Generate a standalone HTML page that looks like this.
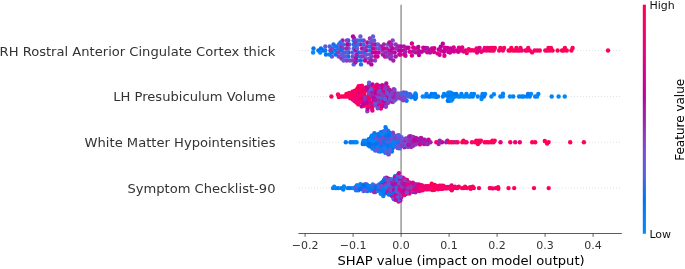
<!DOCTYPE html>
<html><head><meta charset="utf-8"><title>SHAP summary plot</title>
<style>
html,body{margin:0;padding:0;background:#fff;}
body{width:685px;height:269px;overflow:hidden;}
svg text{font-family:"DejaVu Sans","Liberation Sans",sans-serif;}
</style></head><body>
<svg width="685" height="269" viewBox="0 0 685 269" style="display:block;will-change:transform;transform:translateZ(0)">
<rect width="685" height="269" fill="#fff"/>
<line x1="401.1" y1="4.8" x2="401.1" y2="233.5" stroke="#999999" stroke-width="1.5"/>
<line x1="299.5" y1="50.45" x2="621.8" y2="50.45" stroke="#cccccc" stroke-width="0.75" stroke-linecap="round" stroke-dasharray="0.01 3.01"/>
<line x1="299.5" y1="96.45" x2="621.8" y2="96.45" stroke="#cccccc" stroke-width="0.75" stroke-linecap="round" stroke-dasharray="0.01 3.01"/>
<line x1="299.5" y1="142.3" x2="621.8" y2="142.3" stroke="#cccccc" stroke-width="0.75" stroke-linecap="round" stroke-dasharray="0.01 3.01"/>
<line x1="299.5" y1="188.05" x2="621.8" y2="188.05" stroke="#cccccc" stroke-width="0.75" stroke-linecap="round" stroke-dasharray="0.01 3.01"/>
<g>
<circle cx="399.3" cy="54.5" r="2.2" fill="#b10fa5"/><circle cx="369.7" cy="58.4" r="2.2" fill="#6a56d7"/><circle cx="318.4" cy="50.5" r="2.2" fill="#0072ef"/><circle cx="383.9" cy="44.5" r="2.2" fill="#9a27af"/><circle cx="427.2" cy="52.2" r="2.2" fill="#e00086"/><circle cx="366.1" cy="50.5" r="2.2" fill="#b508a3"/><circle cx="362.1" cy="48.4" r="2.2" fill="#cf0093"/><circle cx="513.2" cy="50.5" r="2.2" fill="#fd005e"/><circle cx="437.5" cy="53.4" r="2.2" fill="#e20084"/><circle cx="448.4" cy="51.9" r="2.2" fill="#c80098"/><circle cx="369.9" cy="50.4" r="2.2" fill="#216deb"/><circle cx="338.7" cy="56.5" r="2.2" fill="#8642c5"/><circle cx="444.7" cy="47.8" r="2.2" fill="#e50081"/><circle cx="395.7" cy="44.5" r="2.2" fill="#9233b8"/><circle cx="375.4" cy="44.5" r="2.2" fill="#bc009f"/><circle cx="418.8" cy="51.0" r="2.2" fill="#ae13a6"/><circle cx="463.8" cy="51.5" r="2.2" fill="#df0086"/><circle cx="371.4" cy="64.4" r="2.2" fill="#bb00a0"/><circle cx="377.5" cy="56.5" r="2.2" fill="#bf009d"/><circle cx="466.8" cy="53.1" r="2.2" fill="#ec0079"/><circle cx="375.9" cy="48.5" r="2.2" fill="#7f48ca"/><circle cx="357.1" cy="60.5" r="2.2" fill="#2d6be9"/><circle cx="500.3" cy="47.9" r="2.2" fill="#fc0062"/><circle cx="415.8" cy="52.4" r="2.2" fill="#d30091"/><circle cx="486.6" cy="50.5" r="2.2" fill="#ec0079"/><circle cx="380.9" cy="46.5" r="2.2" fill="#ab17a7"/><circle cx="375.0" cy="60.5" r="2.2" fill="#8741c4"/><circle cx="490.7" cy="47.9" r="2.2" fill="#ff0056"/><circle cx="357.9" cy="40.5" r="2.2" fill="#4665e5"/><circle cx="360.3" cy="44.4" r="2.2" fill="#b802a1"/><circle cx="386.9" cy="52.5" r="2.2" fill="#8047ca"/><circle cx="363.3" cy="52.5" r="2.2" fill="#0072ef"/><circle cx="401.2" cy="50.5" r="2.2" fill="#b40ba3"/><circle cx="349.9" cy="60.5" r="2.2" fill="#7052d4"/><circle cx="434.0" cy="52.1" r="2.2" fill="#e00086"/><circle cx="499.1" cy="50.5" r="2.2" fill="#f90067"/><circle cx="492.9" cy="47.9" r="2.2" fill="#fe005c"/><circle cx="504.1" cy="47.9" r="2.2" fill="#fb0062"/><circle cx="367.0" cy="46.5" r="2.2" fill="#9135ba"/><circle cx="413.2" cy="47.5" r="2.2" fill="#d9008c"/><circle cx="371.7" cy="56.4" r="2.2" fill="#8e39bd"/><circle cx="532.1" cy="52.4" r="2.2" fill="#fb0064"/><circle cx="367.4" cy="42.5" r="2.2" fill="#b509a3"/><circle cx="346.7" cy="60.5" r="2.2" fill="#8d3abe"/><circle cx="342.6" cy="40.5" r="2.2" fill="#a020ab"/><circle cx="537.2" cy="50.5" r="2.2" fill="#fd0060"/><circle cx="407.0" cy="47.7" r="2.2" fill="#b607a3"/><circle cx="378.0" cy="44.5" r="2.2" fill="#5f5bdc"/><circle cx="323.6" cy="50.5" r="2.2" fill="#036fed"/><circle cx="363.5" cy="44.5" r="2.2" fill="#3e67e6"/><circle cx="361.6" cy="52.4" r="2.2" fill="#8245c8"/><circle cx="563.7" cy="50.5" r="2.2" fill="#ff0052"/><circle cx="360.5" cy="56.4" r="2.2" fill="#8443c6"/><circle cx="369.9" cy="38.4" r="2.2" fill="#9134ba"/><circle cx="549.8" cy="50.5" r="2.2" fill="#ff005a"/><circle cx="548.5" cy="47.9" r="2.2" fill="#fb0062"/><circle cx="374.1" cy="40.5" r="2.2" fill="#615adb"/><circle cx="365.9" cy="58.5" r="2.2" fill="#5a5ede"/><circle cx="355.1" cy="46.4" r="2.2" fill="#0075f1"/><circle cx="341.5" cy="58.5" r="2.2" fill="#9135ba"/><circle cx="405.5" cy="55.7" r="2.2" fill="#a61caa"/><circle cx="465.5" cy="50.5" r="2.2" fill="#ec0079"/><circle cx="487.8" cy="47.9" r="2.2" fill="#e60080"/><circle cx="341.2" cy="46.5" r="2.2" fill="#ae13a6"/><circle cx="371.9" cy="40.4" r="2.2" fill="#625adb"/><circle cx="432.0" cy="48.5" r="2.2" fill="#be009e"/><circle cx="481.2" cy="51.8" r="2.2" fill="#f80068"/><circle cx="343.8" cy="52.5" r="2.2" fill="#7f47ca"/><circle cx="394.7" cy="52.5" r="2.2" fill="#c0009d"/><circle cx="392.7" cy="40.5" r="2.2" fill="#8345c8"/><circle cx="516.4" cy="47.9" r="2.2" fill="#ff0051"/><circle cx="332.2" cy="48.5" r="2.2" fill="#8443c6"/><circle cx="399.0" cy="50.5" r="2.2" fill="#b901a1"/><circle cx="325.3" cy="46.5" r="2.2" fill="#7251d3"/><circle cx="470.0" cy="50.5" r="2.2" fill="#f20072"/><circle cx="354.3" cy="38.4" r="2.2" fill="#8f38bc"/><circle cx="382.4" cy="50.5" r="2.2" fill="#8740c4"/><circle cx="329.7" cy="46.5" r="2.2" fill="#2f6ae9"/><circle cx="363.7" cy="40.5" r="2.2" fill="#8d3abe"/><circle cx="353.7" cy="48.4" r="2.2" fill="#4366e5"/><circle cx="370.0" cy="46.4" r="2.2" fill="#226deb"/><circle cx="326.0" cy="54.5" r="2.2" fill="#0079f3"/><circle cx="353.7" cy="40.4" r="2.2" fill="#1e6deb"/><circle cx="344.0" cy="56.5" r="2.2" fill="#7e49cb"/><circle cx="445.0" cy="50.5" r="2.2" fill="#d40090"/><circle cx="313.1" cy="52.5" r="2.2" fill="#0089fa"/><circle cx="411.9" cy="55.5" r="2.2" fill="#d8008d"/><circle cx="409.9" cy="51.8" r="2.2" fill="#d40090"/><circle cx="379.2" cy="48.5" r="2.2" fill="#6658d9"/><circle cx="348.5" cy="52.5" r="2.2" fill="#aa18a8"/><circle cx="349.2" cy="44.5" r="2.2" fill="#3e67e6"/><circle cx="375.6" cy="56.5" r="2.2" fill="#d30090"/><circle cx="348.6" cy="48.5" r="2.2" fill="#6359db"/><circle cx="438.7" cy="49.4" r="2.2" fill="#bd009f"/><circle cx="348.2" cy="40.5" r="2.2" fill="#0072ef"/><circle cx="353.6" cy="44.4" r="2.2" fill="#2d6be9"/><circle cx="348.3" cy="56.5" r="2.2" fill="#0076f1"/><circle cx="391.9" cy="52.5" r="2.2" fill="#a41daa"/><circle cx="335.7" cy="54.5" r="2.2" fill="#0073ef"/><circle cx="373.0" cy="36.4" r="2.2" fill="#6359db"/><circle cx="345.3" cy="56.5" r="2.2" fill="#5d5cdd"/><circle cx="403.9" cy="46.5" r="2.2" fill="#a61caa"/><circle cx="355.5" cy="50.4" r="2.2" fill="#b900a1"/><circle cx="370.3" cy="42.4" r="2.2" fill="#7b4acd"/><circle cx="551.0" cy="47.9" r="2.2" fill="#ff005b"/><circle cx="472.0" cy="50.2" r="2.2" fill="#fb0062"/><circle cx="338.3" cy="48.5" r="2.2" fill="#3469e8"/><circle cx="424.4" cy="50.5" r="2.2" fill="#a71aa9"/><circle cx="433.0" cy="50.5" r="2.2" fill="#d9008c"/><circle cx="477.0" cy="52.5" r="2.2" fill="#f5006d"/><circle cx="357.2" cy="48.5" r="2.2" fill="#6658d9"/><circle cx="343.4" cy="44.5" r="2.2" fill="#4765e4"/><circle cx="439.6" cy="54.8" r="2.2" fill="#cc0096"/><circle cx="369.9" cy="54.4" r="2.2" fill="#6e54d5"/><circle cx="331.9" cy="52.5" r="2.2" fill="#0077f2"/><circle cx="382.8" cy="54.5" r="2.2" fill="#9b24ad"/><circle cx="539.8" cy="50.5" r="2.2" fill="#f80068"/><circle cx="434.3" cy="48.1" r="2.2" fill="#c80098"/><circle cx="365.0" cy="60.5" r="2.2" fill="#d10092"/><circle cx="375.6" cy="52.5" r="2.2" fill="#be009e"/><circle cx="493.7" cy="50.5" r="2.2" fill="#f80069"/><circle cx="468.7" cy="49.1" r="2.2" fill="#f90067"/><circle cx="353.0" cy="36.4" r="2.2" fill="#bf009e"/><circle cx="404.3" cy="50.5" r="2.2" fill="#bc009f"/><circle cx="343.6" cy="60.5" r="2.2" fill="#6857d8"/><circle cx="450.7" cy="48.5" r="2.2" fill="#ca0097"/><circle cx="373.0" cy="44.4" r="2.2" fill="#a120ab"/><circle cx="346.2" cy="48.5" r="2.2" fill="#9e22ac"/><circle cx="462.2" cy="47.5" r="2.2" fill="#ea007b"/><circle cx="521.8" cy="50.5" r="2.2" fill="#e9007c"/><circle cx="557.6" cy="50.5" r="2.2" fill="#ff0057"/><circle cx="353.7" cy="64.4" r="2.2" fill="#4d63e3"/><circle cx="371.4" cy="60.4" r="2.2" fill="#a41daa"/><circle cx="415.6" cy="48.4" r="2.2" fill="#db008a"/><circle cx="562.0" cy="50.5" r="2.2" fill="#ff0056"/><circle cx="529.7" cy="50.5" r="2.2" fill="#f6006b"/><circle cx="461.0" cy="50.5" r="2.2" fill="#dd0088"/><circle cx="444.4" cy="55.8" r="2.2" fill="#e50081"/><circle cx="411.9" cy="43.5" r="2.2" fill="#d40090"/><circle cx="547.3" cy="50.5" r="2.2" fill="#fc0061"/><circle cx="454.0" cy="51.5" r="2.2" fill="#ea007c"/><circle cx="502.9" cy="50.5" r="2.2" fill="#f6006b"/><circle cx="363.0" cy="56.5" r="2.2" fill="#8d3abe"/><circle cx="352.7" cy="56.4" r="2.2" fill="#7a4bce"/><circle cx="400.8" cy="46.5" r="2.2" fill="#b705a2"/><circle cx="342.4" cy="48.5" r="2.2" fill="#8b3cc0"/><circle cx="405.5" cy="51.7" r="2.2" fill="#9a27b0"/><circle cx="386.8" cy="48.5" r="2.2" fill="#a21eab"/><circle cx="388.1" cy="44.5" r="2.2" fill="#7f48cb"/><circle cx="515.2" cy="50.5" r="2.2" fill="#f90067"/><circle cx="393.3" cy="60.5" r="2.2" fill="#a31eaa"/><circle cx="361.0" cy="64.4" r="2.2" fill="#206deb"/><circle cx="476.6" cy="48.5" r="2.2" fill="#ff0056"/><circle cx="355.2" cy="42.4" r="2.2" fill="#972db3"/><circle cx="341.1" cy="50.5" r="2.2" fill="#0076f2"/><circle cx="361.0" cy="40.4" r="2.2" fill="#2c6be9"/><circle cx="389.9" cy="50.5" r="2.2" fill="#ca0097"/><circle cx="331.9" cy="56.5" r="2.2" fill="#635adb"/><circle cx="391.1" cy="46.5" r="2.2" fill="#952fb5"/><circle cx="320.9" cy="48.5" r="2.2" fill="#006fed"/><circle cx="494.9" cy="47.9" r="2.2" fill="#f7006a"/><circle cx="528.2" cy="47.9" r="2.2" fill="#fe005e"/><circle cx="419.0" cy="55.0" r="2.2" fill="#b705a2"/><circle cx="364.7" cy="48.5" r="2.2" fill="#9036bb"/><circle cx="357.1" cy="56.5" r="2.2" fill="#0078f3"/><circle cx="366.3" cy="54.5" r="2.2" fill="#7251d3"/><circle cx="572.6" cy="47.9" r="2.2" fill="#fc0060"/><circle cx="413.1" cy="51.5" r="2.2" fill="#ab17a7"/><circle cx="510.1" cy="50.5" r="2.2" fill="#ff0052"/><circle cx="352.4" cy="52.4" r="2.2" fill="#4166e6"/><circle cx="508.6" cy="50.5" r="2.2" fill="#f90067"/><circle cx="421.7" cy="51.8" r="2.2" fill="#c1009d"/><circle cx="418.3" cy="47.0" r="2.2" fill="#b804a2"/><circle cx="571.4" cy="50.5" r="2.2" fill="#ff0051"/><circle cx="360.8" cy="60.4" r="2.2" fill="#0e6eec"/><circle cx="517.6" cy="50.5" r="2.2" fill="#fa0065"/><circle cx="389.4" cy="42.5" r="2.2" fill="#c90098"/><circle cx="450.0" cy="52.5" r="2.2" fill="#cc0096"/><circle cx="373.0" cy="52.4" r="2.2" fill="#c2009c"/><circle cx="390.4" cy="58.5" r="2.2" fill="#9d22ad"/><circle cx="385.0" cy="56.5" r="2.2" fill="#c70099"/><circle cx="429.2" cy="50.5" r="2.2" fill="#d8008d"/><circle cx="355.8" cy="58.4" r="2.2" fill="#b607a2"/><circle cx="352.6" cy="60.4" r="2.2" fill="#893ec2"/><circle cx="355.4" cy="62.4" r="2.2" fill="#a919a8"/><circle cx="474.3" cy="50.5" r="2.2" fill="#f4006f"/><circle cx="338.9" cy="44.5" r="2.2" fill="#5f5bdc"/><circle cx="358.4" cy="52.5" r="2.2" fill="#0073ef"/><circle cx="386.9" cy="56.5" r="2.2" fill="#9135ba"/><circle cx="453.7" cy="47.5" r="2.2" fill="#d7008d"/><circle cx="456.6" cy="50.5" r="2.2" fill="#da008b"/><circle cx="335.9" cy="46.5" r="2.2" fill="#007df5"/><circle cx="534.7" cy="50.5" r="2.2" fill="#f80068"/><circle cx="430.1" cy="52.5" r="2.2" fill="#ae13a6"/><circle cx="340.4" cy="42.5" r="2.2" fill="#3769e8"/><circle cx="398.5" cy="46.5" r="2.2" fill="#aa18a8"/><circle cx="391.5" cy="44.5" r="2.2" fill="#9a27af"/><circle cx="458.9" cy="47.8" r="2.2" fill="#df0087"/><circle cx="335.3" cy="50.5" r="2.2" fill="#007df6"/><circle cx="385.7" cy="52.5" r="2.2" fill="#9234b9"/><circle cx="313.5" cy="48.5" r="2.2" fill="#0077f2"/><circle cx="360.4" cy="36.4" r="2.2" fill="#7052d4"/><circle cx="390.1" cy="54.5" r="2.2" fill="#9a27af"/><circle cx="357.9" cy="44.5" r="2.2" fill="#3569e8"/><circle cx="511.3" cy="47.9" r="2.2" fill="#ff0051"/><circle cx="395.7" cy="56.5" r="2.2" fill="#a819a8"/><circle cx="525.5" cy="50.5" r="2.2" fill="#fd005e"/><circle cx="520.5" cy="47.9" r="2.2" fill="#f5006d"/><circle cx="552.6" cy="50.5" r="2.2" fill="#ff0056"/><circle cx="333.5" cy="44.5" r="2.2" fill="#1d6deb"/><circle cx="400.7" cy="54.5" r="2.2" fill="#d10092"/><circle cx="383.6" cy="48.5" r="2.2" fill="#ce0094"/><circle cx="373.1" cy="48.4" r="2.2" fill="#ca0097"/><circle cx="341.8" cy="54.5" r="2.2" fill="#5e5cdd"/><circle cx="368.6" cy="62.4" r="2.2" fill="#a919a8"/><circle cx="425.6" cy="47.9" r="2.2" fill="#bd009f"/><circle cx="347.0" cy="40.5" r="2.2" fill="#8b3dc1"/><circle cx="330.4" cy="50.5" r="2.2" fill="#9036bb"/><circle cx="325.3" cy="50.5" r="2.2" fill="#007ef6"/><circle cx="338.1" cy="52.5" r="2.2" fill="#9037bc"/><circle cx="356.4" cy="54.4" r="2.2" fill="#a71aa9"/><circle cx="608.0" cy="50.5" r="2.2" fill="#ff0053"/><circle cx="442.8" cy="43.8" r="2.2" fill="#be009e"/><circle cx="440.7" cy="46.8" r="2.2" fill="#b900a1"/><circle cx="446.2" cy="47.9" r="2.2" fill="#d00093"/><circle cx="478.4" cy="50.5" r="2.2" fill="#d8008d"/><circle cx="408.6" cy="47.8" r="2.2" fill="#cc0095"/><circle cx="440.9" cy="50.8" r="2.2" fill="#da008b"/><circle cx="566.8" cy="50.5" r="2.2" fill="#fe005e"/><circle cx="320.2" cy="52.5" r="2.2" fill="#0086f9"/><circle cx="479.6" cy="47.9" r="2.2" fill="#d40090"/><circle cx="484.7" cy="47.9" r="2.2" fill="#f4006f"/><circle cx="564.9" cy="47.9" r="2.2" fill="#fe005d"/><circle cx="404.5" cy="54.5" r="2.2" fill="#d30090"/><circle cx="545.3" cy="50.5" r="2.2" fill="#f80068"/><circle cx="458.2" cy="51.8" r="2.2" fill="#cf0094"/><circle cx="396.2" cy="48.5" r="2.2" fill="#962eb5"/><circle cx="527.0" cy="50.5" r="2.2" fill="#f90066"/><circle cx="347.3" cy="44.5" r="2.2" fill="#bb00a0"/><circle cx="392.5" cy="48.5" r="2.2" fill="#b902a1"/><circle cx="483.5" cy="50.5" r="2.2" fill="#f20071"/><circle cx="444.0" cy="51.8" r="2.2" fill="#bf009e"/><circle cx="452.5" cy="50.5" r="2.2" fill="#c90097"/><circle cx="378.7" cy="52.5" r="2.2" fill="#cc0096"/><circle cx="423.3" cy="47.8" r="2.2" fill="#c80098"/><circle cx="391.5" cy="56.5" r="2.2" fill="#8e39bd"/><circle cx="519.3" cy="50.5" r="2.2" fill="#fb0063"/><circle cx="447.6" cy="47.9" r="2.2" fill="#ce0094"/><circle cx="491.7" cy="50.5" r="2.2" fill="#ff0055"/><circle cx="489.5" cy="50.5" r="2.2" fill="#f30070"/><circle cx="329.6" cy="54.5" r="2.2" fill="#0081f7"/><circle cx="346.7" cy="52.5" r="2.2" fill="#4565e5"/><circle cx="427.5" cy="48.2" r="2.2" fill="#ad14a6"/>
</g>
<g>
<circle cx="458.2" cy="96.5" r="2.2" fill="#0087fa"/><circle cx="372.6" cy="89.7" r="2.2" fill="#ff005a"/><circle cx="379.5" cy="85.9" r="2.2" fill="#a919a8"/><circle cx="387.3" cy="101.0" r="2.2" fill="#565fe0"/><circle cx="411.2" cy="97.3" r="2.2" fill="#007ef6"/><circle cx="378.5" cy="103.0" r="2.2" fill="#8642c5"/><circle cx="396.9" cy="96.0" r="2.2" fill="#635adb"/><circle cx="361.8" cy="93.4" r="2.2" fill="#c6009a"/><circle cx="358.3" cy="94.0" r="2.2" fill="#f20072"/><circle cx="380.9" cy="88.5" r="2.2" fill="#4465e5"/><circle cx="352.9" cy="95.8" r="2.2" fill="#fc0061"/><circle cx="377.5" cy="100.4" r="2.2" fill="#8641c4"/><circle cx="376.3" cy="89.6" r="2.2" fill="#d6008e"/><circle cx="352.8" cy="99.5" r="2.2" fill="#fe005e"/><circle cx="360.3" cy="94.3" r="2.2" fill="#db008a"/><circle cx="482.0" cy="96.5" r="2.2" fill="#0080f7"/><circle cx="367.3" cy="111.3" r="2.2" fill="#7f48cb"/><circle cx="442.9" cy="96.5" r="2.2" fill="#007ff7"/><circle cx="415.2" cy="98.7" r="2.2" fill="#096fec"/><circle cx="513.3" cy="96.5" r="2.2" fill="#0081f7"/><circle cx="384.1" cy="101.6" r="2.2" fill="#5161e1"/><circle cx="399.5" cy="96.0" r="2.2" fill="#8d3abe"/><circle cx="360.8" cy="96.9" r="2.2" fill="#b508a3"/><circle cx="361.4" cy="96.0" r="2.2" fill="#ff0051"/><circle cx="388.4" cy="94.9" r="2.2" fill="#6459da"/><circle cx="376.9" cy="95.2" r="2.2" fill="#8d3abe"/><circle cx="392.8" cy="102.1" r="2.2" fill="#754fd1"/><circle cx="465.2" cy="96.5" r="2.2" fill="#008afb"/><circle cx="361.9" cy="85.6" r="2.2" fill="#fd005f"/><circle cx="343.4" cy="96.5" r="2.2" fill="#fc0062"/><circle cx="406.6" cy="100.7" r="2.2" fill="#0078f3"/><circle cx="365.4" cy="100.5" r="2.2" fill="#9135ba"/><circle cx="449.3" cy="100.7" r="2.2" fill="#007af4"/><circle cx="338.8" cy="97.1" r="2.2" fill="#fe005d"/><circle cx="362.2" cy="101.2" r="2.2" fill="#fe005d"/><circle cx="386.0" cy="96.4" r="2.2" fill="#605bdc"/><circle cx="485.1" cy="93.9" r="2.2" fill="#0086f9"/><circle cx="387.6" cy="87.1" r="2.2" fill="#d7008e"/><circle cx="355.2" cy="97.4" r="2.2" fill="#ff005a"/><circle cx="379.4" cy="98.9" r="2.2" fill="#a51caa"/><circle cx="382.6" cy="103.4" r="2.2" fill="#4166e6"/><circle cx="358.3" cy="104.4" r="2.2" fill="#f6006b"/><circle cx="415.9" cy="95.0" r="2.2" fill="#007af4"/><circle cx="387.9" cy="95.8" r="2.2" fill="#9a25ae"/><circle cx="393.7" cy="95.2" r="2.2" fill="#a71aa9"/><circle cx="451.6" cy="95.2" r="2.2" fill="#0084f9"/><circle cx="470.3" cy="96.5" r="2.2" fill="#0084f9"/><circle cx="452.4" cy="97.8" r="2.2" fill="#0089fa"/><circle cx="379.1" cy="106.8" r="2.2" fill="#7f48ca"/><circle cx="367.6" cy="108.7" r="2.2" fill="#c6009a"/><circle cx="380.9" cy="108.6" r="2.2" fill="#ef0076"/><circle cx="382.2" cy="100.8" r="2.2" fill="#f4006e"/><circle cx="564.8" cy="96.5" r="2.2" fill="#008afb"/><circle cx="455.1" cy="96.5" r="2.2" fill="#0080f7"/><circle cx="364.2" cy="105.7" r="2.2" fill="#ff0056"/><circle cx="385.7" cy="93.8" r="2.2" fill="#9431b7"/><circle cx="370.2" cy="86.5" r="2.2" fill="#6d54d6"/><circle cx="425.3" cy="96.5" r="2.2" fill="#0086f9"/><circle cx="416.0" cy="97.6" r="2.2" fill="#007ff7"/><circle cx="383.9" cy="93.2" r="2.2" fill="#c2009c"/><circle cx="389.3" cy="100.1" r="2.2" fill="#7152d4"/><circle cx="370.2" cy="94.3" r="2.2" fill="#ff005a"/><circle cx="361.7" cy="106.4" r="2.2" fill="#c90098"/><circle cx="472.8" cy="96.5" r="2.2" fill="#0080f7"/><circle cx="387.4" cy="97.5" r="2.2" fill="#c80099"/><circle cx="352.6" cy="96.9" r="2.2" fill="#f80069"/><circle cx="529.8" cy="96.5" r="2.2" fill="#0080f7"/><circle cx="523.5" cy="96.5" r="2.2" fill="#0081f8"/><circle cx="358.9" cy="91.4" r="2.2" fill="#cb0096"/><circle cx="376.1" cy="94.8" r="2.2" fill="#c3009b"/><circle cx="414.0" cy="96.1" r="2.2" fill="#0078f3"/><circle cx="474.0" cy="93.9" r="2.2" fill="#0080f7"/><circle cx="403.2" cy="100.2" r="2.2" fill="#8c3bbf"/><circle cx="367.0" cy="98.3" r="2.2" fill="#9b24ae"/><circle cx="382.7" cy="95.8" r="2.2" fill="#6658d9"/><circle cx="382.6" cy="98.4" r="2.2" fill="#ae14a6"/><circle cx="385.9" cy="88.0" r="2.2" fill="#9c23ad"/><circle cx="355.1" cy="94.8" r="2.2" fill="#fc0062"/><circle cx="372.5" cy="84.5" r="2.2" fill="#c0009d"/><circle cx="378.7" cy="90.0" r="2.2" fill="#e40082"/><circle cx="367.3" cy="90.5" r="2.2" fill="#ff0051"/><circle cx="377.0" cy="105.6" r="2.2" fill="#ab17a7"/><circle cx="373.3" cy="102.7" r="2.2" fill="#fd0060"/><circle cx="510.0" cy="96.5" r="2.2" fill="#008afb"/><circle cx="535.2" cy="96.5" r="2.2" fill="#007ef6"/><circle cx="383.6" cy="103.6" r="2.2" fill="#9332b8"/><circle cx="537.1" cy="96.5" r="2.2" fill="#008afb"/><circle cx="331.4" cy="96.5" r="2.2" fill="#fe005d"/><circle cx="376.8" cy="97.8" r="2.2" fill="#8b3cc0"/><circle cx="436.2" cy="97.1" r="2.2" fill="#0083f8"/><circle cx="400.8" cy="98.6" r="2.2" fill="#8a3dc1"/><circle cx="384.2" cy="91.2" r="2.2" fill="#e9007d"/><circle cx="389.4" cy="92.3" r="2.2" fill="#c3009b"/><circle cx="381.1" cy="93.0" r="2.2" fill="#4466e5"/><circle cx="500.4" cy="96.5" r="2.2" fill="#0080f7"/><circle cx="538.3" cy="93.9" r="2.2" fill="#0083f9"/><circle cx="450.8" cy="92.6" r="2.2" fill="#007df6"/><circle cx="404.8" cy="98.0" r="2.2" fill="#754fd1"/><circle cx="372.4" cy="110.5" r="2.2" fill="#eb007b"/><circle cx="379.5" cy="96.3" r="2.2" fill="#7e48cb"/><circle cx="382.4" cy="106.0" r="2.2" fill="#d20091"/><circle cx="519.1" cy="96.5" r="2.2" fill="#0082f8"/><circle cx="382.2" cy="85.2" r="2.2" fill="#c3009c"/><circle cx="383.4" cy="88.0" r="2.2" fill="#9530b6"/><circle cx="438.0" cy="96.5" r="2.2" fill="#0079f3"/><circle cx="379.0" cy="93.8" r="2.2" fill="#f00074"/><circle cx="531.0" cy="93.9" r="2.2" fill="#0087fa"/><circle cx="447.8" cy="100.7" r="2.2" fill="#0077f2"/><circle cx="434.8" cy="93.9" r="2.2" fill="#007af4"/><circle cx="375.7" cy="97.4" r="2.2" fill="#784dcf"/><circle cx="371.1" cy="107.3" r="2.2" fill="#9829b1"/><circle cx="381.3" cy="98.2" r="2.2" fill="#4665e5"/><circle cx="435.3" cy="94.5" r="2.2" fill="#007df6"/><circle cx="430.4" cy="96.5" r="2.2" fill="#007cf5"/><circle cx="368.5" cy="95.7" r="2.2" fill="#ff0051"/><circle cx="370.3" cy="102.1" r="2.2" fill="#fe005e"/><circle cx="387.3" cy="93.2" r="2.2" fill="#7b4bcd"/><circle cx="390.8" cy="101.3" r="2.2" fill="#af13a6"/><circle cx="380.3" cy="104.1" r="2.2" fill="#ec0079"/><circle cx="362.0" cy="98.6" r="2.2" fill="#d20091"/><circle cx="422.8" cy="96.5" r="2.2" fill="#0089fa"/><circle cx="374.9" cy="87.0" r="2.2" fill="#aa18a8"/><circle cx="471.5" cy="93.9" r="2.2" fill="#0086f9"/><circle cx="448.6" cy="98.0" r="2.2" fill="#0085f9"/><circle cx="477.8" cy="96.5" r="2.2" fill="#0086fa"/><circle cx="526.8" cy="96.5" r="2.2" fill="#0084f9"/><circle cx="468.4" cy="96.5" r="2.2" fill="#0088fa"/><circle cx="345.2" cy="96.5" r="2.2" fill="#f90067"/><circle cx="431.6" cy="93.9" r="2.2" fill="#0078f2"/><circle cx="377.7" cy="108.2" r="2.2" fill="#784dcf"/><circle cx="373.9" cy="100.1" r="2.2" fill="#bf009d"/><circle cx="373.5" cy="87.1" r="2.2" fill="#ff005b"/><circle cx="444.1" cy="93.9" r="2.2" fill="#007ff6"/><circle cx="385.8" cy="104.2" r="2.2" fill="#ac16a7"/><circle cx="453.0" cy="96.5" r="2.2" fill="#0087fa"/><circle cx="357.5" cy="101.8" r="2.2" fill="#e10085"/><circle cx="356.0" cy="100.0" r="2.2" fill="#f30070"/><circle cx="503.0" cy="93.8" r="2.2" fill="#0084f9"/><circle cx="369.8" cy="91.7" r="2.2" fill="#7450d2"/><circle cx="355.4" cy="92.2" r="2.2" fill="#fe005e"/><circle cx="450.0" cy="98.0" r="2.2" fill="#0089fa"/><circle cx="392.6" cy="99.5" r="2.2" fill="#7c4acc"/><circle cx="393.4" cy="94.3" r="2.2" fill="#a819a8"/><circle cx="394.6" cy="92.6" r="2.2" fill="#a120ab"/><circle cx="365.0" cy="90.1" r="2.2" fill="#ae14a6"/><circle cx="369.0" cy="93.1" r="2.2" fill="#8443c6"/><circle cx="393.8" cy="91.7" r="2.2" fill="#af13a6"/><circle cx="374.8" cy="105.2" r="2.2" fill="#6559da"/><circle cx="415.4" cy="93.5" r="2.2" fill="#0083f8"/><circle cx="385.6" cy="86.0" r="2.2" fill="#8e39bd"/><circle cx="502.8" cy="96.4" r="2.2" fill="#0086f9"/><circle cx="375.4" cy="92.2" r="2.2" fill="#b901a1"/><circle cx="386.7" cy="103.6" r="2.2" fill="#9928b0"/><circle cx="354.8" cy="90.6" r="2.2" fill="#ff0052"/><circle cx="350.3" cy="98.2" r="2.2" fill="#fc0061"/><circle cx="354.8" cy="93.2" r="2.2" fill="#f6006b"/><circle cx="528.0" cy="93.9" r="2.2" fill="#007df6"/><circle cx="359.6" cy="86.5" r="2.2" fill="#d9008c"/><circle cx="349.2" cy="95.6" r="2.2" fill="#ff005a"/><circle cx="521.6" cy="96.5" r="2.2" fill="#0085f9"/><circle cx="347.4" cy="96.5" r="2.2" fill="#fd005f"/><circle cx="359.9" cy="89.1" r="2.2" fill="#ff0051"/><circle cx="374.0" cy="105.3" r="2.2" fill="#8245c8"/><circle cx="359.4" cy="102.1" r="2.2" fill="#f90067"/><circle cx="394.7" cy="100.4" r="2.2" fill="#6c55d6"/><circle cx="358.6" cy="86.2" r="2.2" fill="#fb0064"/><circle cx="357.4" cy="88.8" r="2.2" fill="#d8008c"/><circle cx="403.5" cy="92.4" r="2.2" fill="#8641c4"/><circle cx="348.6" cy="93.9" r="2.2" fill="#ff0056"/><circle cx="361.0" cy="91.7" r="2.2" fill="#f90067"/><circle cx="433.6" cy="96.5" r="2.2" fill="#0086fa"/><circle cx="385.9" cy="106.8" r="2.2" fill="#8a3ec1"/><circle cx="353.0" cy="98.4" r="2.2" fill="#ea007b"/><circle cx="386.1" cy="98.4" r="2.2" fill="#e00085"/><circle cx="391.8" cy="90.9" r="2.2" fill="#9332b8"/><circle cx="551.7" cy="96.5" r="2.2" fill="#0086f9"/><circle cx="364.4" cy="95.3" r="2.2" fill="#a61caa"/><circle cx="371.2" cy="104.7" r="2.2" fill="#a61ba9"/><circle cx="387.1" cy="90.6" r="2.2" fill="#5f5bdc"/><circle cx="461.4" cy="93.9" r="2.2" fill="#007ef6"/><circle cx="449.6" cy="92.8" r="2.2" fill="#0086fa"/><circle cx="558.6" cy="96.5" r="2.2" fill="#0088fa"/><circle cx="491.4" cy="96.5" r="2.2" fill="#0088fa"/><circle cx="400.5" cy="93.5" r="2.2" fill="#5061e2"/><circle cx="386.3" cy="83.4" r="2.2" fill="#b607a2"/><circle cx="406.2" cy="95.5" r="2.2" fill="#6459da"/><circle cx="381.3" cy="90.4" r="2.2" fill="#9036bb"/><circle cx="493.9" cy="94.3" r="2.2" fill="#0088fa"/><circle cx="394.6" cy="90.0" r="2.2" fill="#7251d3"/><circle cx="453.5" cy="93.9" r="2.2" fill="#007ef6"/><circle cx="390.3" cy="96.1" r="2.2" fill="#605bdc"/><circle cx="375.3" cy="102.6" r="2.2" fill="#6c55d6"/><circle cx="367.6" cy="87.9" r="2.2" fill="#b608a3"/><circle cx="389.4" cy="89.7" r="2.2" fill="#a61caa"/><circle cx="371.9" cy="94.9" r="2.2" fill="#9331b7"/><circle cx="377.0" cy="84.8" r="2.2" fill="#e7007f"/><circle cx="362.8" cy="103.8" r="2.2" fill="#c2009c"/><circle cx="372.5" cy="92.3" r="2.2" fill="#ad15a7"/><circle cx="452.5" cy="99.0" r="2.2" fill="#0082f8"/><circle cx="359.9" cy="99.5" r="2.2" fill="#ed0078"/><circle cx="366.0" cy="87.5" r="2.2" fill="#c70099"/><circle cx="482.5" cy="93.9" r="2.2" fill="#0082f8"/><circle cx="368.9" cy="85.3" r="2.2" fill="#9f21ac"/><circle cx="463.3" cy="96.5" r="2.2" fill="#0089fa"/><circle cx="362.8" cy="88.2" r="2.2" fill="#f90067"/><circle cx="341.2" cy="96.5" r="2.2" fill="#ff0053"/><circle cx="383.3" cy="90.6" r="2.2" fill="#d9008c"/><circle cx="357.0" cy="89.6" r="2.2" fill="#ff0051"/><circle cx="364.8" cy="97.9" r="2.2" fill="#9431b7"/><circle cx="460.2" cy="96.5" r="2.2" fill="#0086f9"/><circle cx="371.4" cy="96.9" r="2.2" fill="#962eb5"/><circle cx="451.5" cy="100.5" r="2.2" fill="#0089fa"/><circle cx="383.6" cy="101.0" r="2.2" fill="#c1009d"/><circle cx="428.5" cy="96.5" r="2.2" fill="#0077f2"/><circle cx="397.7" cy="93.5" r="2.2" fill="#8047c9"/><circle cx="481.5" cy="99.0" r="2.2" fill="#0088fa"/><circle cx="395.0" cy="97.8" r="2.2" fill="#8840c3"/><circle cx="385.0" cy="99.0" r="2.2" fill="#575fe0"/><circle cx="390.4" cy="98.7" r="2.2" fill="#754fd1"/><circle cx="367.7" cy="106.1" r="2.2" fill="#fa0064"/><circle cx="352.1" cy="94.3" r="2.2" fill="#ff0052"/><circle cx="402.5" cy="95.0" r="2.2" fill="#4565e5"/><circle cx="367.7" cy="103.5" r="2.2" fill="#fa0064"/><circle cx="483.9" cy="96.5" r="2.2" fill="#007af4"/><circle cx="397.0" cy="98.6" r="2.2" fill="#8245c8"/><circle cx="410.5" cy="94.7" r="2.2" fill="#246cea"/><circle cx="373.6" cy="97.5" r="2.2" fill="#b30ca4"/><circle cx="357.6" cy="96.6" r="2.2" fill="#f6006b"/><circle cx="349.1" cy="93.0" r="2.2" fill="#fe005c"/><circle cx="393.8" cy="89.1" r="2.2" fill="#893ec2"/><circle cx="369.1" cy="82.7" r="2.2" fill="#6757d9"/><circle cx="368.4" cy="100.9" r="2.2" fill="#b30ca4"/><circle cx="356.4" cy="102.6" r="2.2" fill="#f7006b"/><circle cx="366.0" cy="103.1" r="2.2" fill="#c70099"/><circle cx="363.3" cy="90.8" r="2.2" fill="#e30083"/><circle cx="380.1" cy="101.5" r="2.2" fill="#962eb4"/><circle cx="393.4" cy="96.9" r="2.2" fill="#9a26af"/><circle cx="408.2" cy="96.5" r="2.2" fill="#3c67e7"/><circle cx="354.5" cy="101.0" r="2.2" fill="#f4006f"/><circle cx="382.7" cy="87.8" r="2.2" fill="#cd0095"/><circle cx="466.4" cy="93.9" r="2.2" fill="#0084f9"/><circle cx="409.4" cy="93.9" r="2.2" fill="#4765e4"/><circle cx="379.3" cy="91.1" r="2.2" fill="#3769e8"/><circle cx="449.1" cy="95.5" r="2.2" fill="#007cf5"/><circle cx="375.5" cy="100.0" r="2.2" fill="#ac15a7"/><circle cx="338.0" cy="94.5" r="2.2" fill="#fe005d"/><circle cx="385.0" cy="88.6" r="2.2" fill="#9135ba"/><circle cx="403.5" cy="97.6" r="2.2" fill="#8046c9"/><circle cx="382.0" cy="95.6" r="2.2" fill="#8d3abe"/><circle cx="426.5" cy="93.9" r="2.2" fill="#0086fa"/><circle cx="406.0" cy="92.8" r="2.2" fill="#316ae9"/><circle cx="456.3" cy="93.9" r="2.2" fill="#0079f3"/><circle cx="352.4" cy="91.7" r="2.2" fill="#f00074"/><circle cx="391.7" cy="93.5" r="2.2" fill="#8642c5"/><circle cx="369.5" cy="99.5" r="2.2" fill="#f10073"/><circle cx="357.2" cy="99.2" r="2.2" fill="#ed0079"/><circle cx="388.2" cy="102.7" r="2.2" fill="#8d3bbf"/><circle cx="372.0" cy="107.9" r="2.2" fill="#f30070"/><circle cx="446.6" cy="95.5" r="2.2" fill="#007bf4"/><circle cx="378.6" cy="92.6" r="2.2" fill="#8b3cc0"/><circle cx="448.3" cy="92.8" r="2.2" fill="#0082f8"/><circle cx="371.4" cy="89.1" r="2.2" fill="#6757d9"/><circle cx="377.4" cy="87.4" r="2.2" fill="#e40082"/><circle cx="346.4" cy="93.9" r="2.2" fill="#ff0052"/><circle cx="364.3" cy="92.7" r="2.2" fill="#ff0051"/>
</g>
<g>
<circle cx="391.6" cy="140.8" r="2.2" fill="#774ed0"/><circle cx="492.4" cy="140.6" r="2.2" fill="#fc0060"/><circle cx="453.4" cy="142.3" r="2.2" fill="#fc0061"/><circle cx="367.9" cy="140.6" r="2.2" fill="#0087fa"/><circle cx="378.8" cy="134.0" r="2.2" fill="#007df6"/><circle cx="378.4" cy="151.2" r="2.2" fill="#6b56d7"/><circle cx="442.0" cy="142.3" r="2.2" fill="#bf009e"/><circle cx="387.9" cy="150.1" r="2.2" fill="#007cf5"/><circle cx="389.6" cy="138.6" r="2.2" fill="#8641c4"/><circle cx="373.3" cy="144.2" r="2.2" fill="#0073ef"/><circle cx="374.2" cy="148.4" r="2.2" fill="#1c6deb"/><circle cx="385.6" cy="152.9" r="2.2" fill="#008bfb"/><circle cx="391.4" cy="136.5" r="2.2" fill="#0074f0"/><circle cx="404.4" cy="147.2" r="2.2" fill="#9f21ac"/><circle cx="407.7" cy="142.7" r="2.2" fill="#9431b7"/><circle cx="387.7" cy="148.0" r="2.2" fill="#2c6be9"/><circle cx="396.4" cy="137.4" r="2.2" fill="#156eec"/><circle cx="388.4" cy="145.1" r="2.2" fill="#7251d3"/><circle cx="583.9" cy="142.3" r="2.2" fill="#fe005c"/><circle cx="409.4" cy="138.6" r="2.2" fill="#aa18a8"/><circle cx="427.2" cy="141.9" r="2.2" fill="#d30090"/><circle cx="375.8" cy="146.2" r="2.2" fill="#0085f9"/><circle cx="370.9" cy="137.8" r="2.2" fill="#0075f1"/><circle cx="382.0" cy="138.7" r="2.2" fill="#0078f3"/><circle cx="416.1" cy="142.3" r="2.2" fill="#b607a2"/><circle cx="390.4" cy="134.4" r="2.2" fill="#5e5cdd"/><circle cx="424.1" cy="144.0" r="2.2" fill="#cc0095"/><circle cx="367.4" cy="142.3" r="2.2" fill="#0086f9"/><circle cx="388.5" cy="139.4" r="2.2" fill="#784dcf"/><circle cx="413.4" cy="137.3" r="2.2" fill="#be009e"/><circle cx="403.5" cy="142.9" r="2.2" fill="#a11fab"/><circle cx="407.4" cy="144.9" r="2.2" fill="#a41daa"/><circle cx="478.9" cy="140.6" r="2.2" fill="#fd005f"/><circle cx="439.2" cy="142.3" r="2.2" fill="#a020ab"/><circle cx="475.1" cy="142.3" r="2.2" fill="#fc0062"/><circle cx="374.8" cy="137.6" r="2.2" fill="#0078f3"/><circle cx="391.8" cy="143.6" r="2.2" fill="#8c3bbf"/><circle cx="414.0" cy="138.1" r="2.2" fill="#9332b8"/><circle cx="414.1" cy="144.5" r="2.2" fill="#ad15a7"/><circle cx="420.3" cy="141.0" r="2.2" fill="#d20091"/><circle cx="398.3" cy="146.3" r="2.2" fill="#3a68e7"/><circle cx="388.4" cy="153.7" r="2.2" fill="#5360e1"/><circle cx="388.0" cy="132.9" r="2.2" fill="#0070ed"/><circle cx="419.8" cy="143.2" r="2.2" fill="#d00093"/><circle cx="427.7" cy="144.0" r="2.2" fill="#bf009e"/><circle cx="477.9" cy="144.0" r="2.2" fill="#ff0057"/><circle cx="455.8" cy="142.3" r="2.2" fill="#9a26af"/><circle cx="375.2" cy="150.5" r="2.2" fill="#4e62e2"/><circle cx="380.9" cy="149.5" r="2.2" fill="#0074f0"/><circle cx="387.0" cy="131.4" r="2.2" fill="#276cea"/><circle cx="419.5" cy="138.8" r="2.2" fill="#ce0094"/><circle cx="384.1" cy="137.1" r="2.2" fill="#336ae8"/><circle cx="386.8" cy="150.8" r="2.2" fill="#008bfb"/><circle cx="376.1" cy="134.7" r="2.2" fill="#007af4"/><circle cx="387.6" cy="143.7" r="2.2" fill="#764ed0"/><circle cx="389.7" cy="140.8" r="2.2" fill="#5261e1"/><circle cx="389.9" cy="147.2" r="2.2" fill="#8542c5"/><circle cx="479.7" cy="142.3" r="2.2" fill="#fb0063"/><circle cx="387.2" cy="140.0" r="2.2" fill="#8c3cbf"/><circle cx="389.0" cy="136.5" r="2.2" fill="#0081f8"/><circle cx="392.8" cy="147.9" r="2.2" fill="#3569e8"/><circle cx="384.6" cy="145.8" r="2.2" fill="#0081f7"/><circle cx="374.7" cy="135.5" r="2.2" fill="#007df5"/><circle cx="373.4" cy="137.8" r="2.2" fill="#0087fa"/><circle cx="500.5" cy="142.3" r="2.2" fill="#e9007c"/><circle cx="404.1" cy="145.1" r="2.2" fill="#4e62e2"/><circle cx="365.3" cy="142.3" r="2.2" fill="#0070ed"/><circle cx="408.4" cy="142.9" r="2.2" fill="#754fd1"/><circle cx="457.6" cy="142.3" r="2.2" fill="#fe005e"/><circle cx="366.9" cy="144.0" r="2.2" fill="#0087fa"/><circle cx="385.7" cy="144.3" r="2.2" fill="#0082f8"/><circle cx="402.9" cy="141.4" r="2.2" fill="#9e22ac"/><circle cx="379.7" cy="146.9" r="2.2" fill="#0073ef"/><circle cx="374.4" cy="133.3" r="2.2" fill="#1e6deb"/><circle cx="377.3" cy="145.5" r="2.2" fill="#4565e5"/><circle cx="388.3" cy="141.5" r="2.2" fill="#007af4"/><circle cx="464.9" cy="142.3" r="2.2" fill="#fb0063"/><circle cx="386.5" cy="148.6" r="2.2" fill="#5460e0"/><circle cx="390.1" cy="143.0" r="2.2" fill="#4765e4"/><circle cx="383.3" cy="140.2" r="2.2" fill="#296cea"/><circle cx="385.0" cy="150.0" r="2.2" fill="#7350d2"/><circle cx="404.1" cy="140.8" r="2.2" fill="#9c23ad"/><circle cx="411.0" cy="138.3" r="2.2" fill="#8b3dc0"/><circle cx="447.4" cy="140.6" r="2.2" fill="#b20fa4"/><circle cx="394.5" cy="137.3" r="2.2" fill="#0080f7"/><circle cx="413.7" cy="143.8" r="2.2" fill="#8b3cc0"/><circle cx="388.6" cy="154.4" r="2.2" fill="#8b3cc0"/><circle cx="377.5" cy="141.2" r="2.2" fill="#3569e8"/><circle cx="393.6" cy="139.5" r="2.2" fill="#9234b9"/><circle cx="394.8" cy="144.5" r="2.2" fill="#6758d9"/><circle cx="388.0" cy="130.8" r="2.2" fill="#0080f7"/><circle cx="401.4" cy="137.1" r="2.2" fill="#5a5ede"/><circle cx="382.7" cy="131.6" r="2.2" fill="#0088fa"/><circle cx="385.0" cy="130.7" r="2.2" fill="#8542c5"/><circle cx="382.7" cy="151.0" r="2.2" fill="#0089fa"/><circle cx="379.6" cy="144.7" r="2.2" fill="#774ed0"/><circle cx="411.7" cy="142.6" r="2.2" fill="#b40ba4"/><circle cx="493.5" cy="142.3" r="2.2" fill="#fa0065"/><circle cx="384.7" cy="139.3" r="2.2" fill="#4e62e2"/><circle cx="519.8" cy="142.3" r="2.2" fill="#f30070"/><circle cx="372.1" cy="142.1" r="2.2" fill="#0084f9"/><circle cx="426.5" cy="141.9" r="2.2" fill="#c3009b"/><circle cx="405.3" cy="138.6" r="2.2" fill="#8f37bc"/><circle cx="535.2" cy="142.3" r="2.2" fill="#ff0057"/><circle cx="463.5" cy="140.6" r="2.2" fill="#ff0052"/><circle cx="410.5" cy="140.4" r="2.2" fill="#8146c9"/><circle cx="400.0" cy="144.1" r="2.2" fill="#893ec2"/><circle cx="388.8" cy="145.8" r="2.2" fill="#0072ef"/><circle cx="494.7" cy="140.6" r="2.2" fill="#ff005a"/><circle cx="382.6" cy="148.8" r="2.2" fill="#0081f8"/><circle cx="382.6" cy="135.9" r="2.2" fill="#007af4"/><circle cx="368.4" cy="145.5" r="2.2" fill="#007ef6"/><circle cx="415.2" cy="142.4" r="2.2" fill="#af12a5"/><circle cx="424.8" cy="139.7" r="2.2" fill="#982ab2"/><circle cx="428.6" cy="139.7" r="2.2" fill="#d5008f"/><circle cx="411.0" cy="146.9" r="2.2" fill="#9f21ac"/><circle cx="419.4" cy="143.5" r="2.2" fill="#952fb5"/><circle cx="397.7" cy="148.1" r="2.2" fill="#2d6be9"/><circle cx="393.3" cy="145.7" r="2.2" fill="#9333b8"/><circle cx="417.9" cy="141.4" r="2.2" fill="#9430b6"/><circle cx="407.8" cy="140.6" r="2.2" fill="#7151d3"/><circle cx="380.4" cy="136.6" r="2.2" fill="#6956d8"/><circle cx="398.2" cy="143.8" r="2.2" fill="#8c3bbf"/><circle cx="515.2" cy="142.3" r="2.2" fill="#ec0079"/><circle cx="397.8" cy="146.0" r="2.2" fill="#6f53d5"/><circle cx="393.1" cy="143.8" r="2.2" fill="#8642c5"/><circle cx="400.0" cy="139.8" r="2.2" fill="#6459da"/><circle cx="392.7" cy="139.3" r="2.2" fill="#0070ee"/><circle cx="386.1" cy="129.3" r="2.2" fill="#5d5cdd"/><circle cx="393.3" cy="135.2" r="2.2" fill="#6b55d7"/><circle cx="476.3" cy="140.6" r="2.2" fill="#fa0064"/><circle cx="380.7" cy="140.9" r="2.2" fill="#6c55d6"/><circle cx="390.0" cy="142.9" r="2.2" fill="#5d5cdd"/><circle cx="472.0" cy="142.3" r="2.2" fill="#fd0060"/><circle cx="380.5" cy="151.6" r="2.2" fill="#0083f8"/><circle cx="417.5" cy="140.1" r="2.2" fill="#ba00a0"/><circle cx="373.8" cy="135.6" r="2.2" fill="#0085f9"/><circle cx="486.7" cy="142.3" r="2.2" fill="#fe005d"/><circle cx="362.7" cy="144.0" r="2.2" fill="#0072ef"/><circle cx="381.7" cy="147.3" r="2.2" fill="#007ff6"/><circle cx="385.6" cy="135.0" r="2.2" fill="#7d49cc"/><circle cx="373.3" cy="139.9" r="2.2" fill="#007df5"/><circle cx="377.1" cy="139.0" r="2.2" fill="#0083f8"/><circle cx="436.3" cy="142.3" r="2.2" fill="#fb0063"/><circle cx="380.9" cy="132.3" r="2.2" fill="#276cea"/><circle cx="423.3" cy="139.7" r="2.2" fill="#b110a5"/><circle cx="398.3" cy="137.7" r="2.2" fill="#8642c5"/><circle cx="363.2" cy="142.3" r="2.2" fill="#0072ef"/><circle cx="415.7" cy="144.4" r="2.2" fill="#9431b7"/><circle cx="391.6" cy="141.4" r="2.2" fill="#5261e1"/><circle cx="391.6" cy="137.1" r="2.2" fill="#008bfb"/><circle cx="363.7" cy="140.6" r="2.2" fill="#0084f9"/><circle cx="391.6" cy="149.4" r="2.2" fill="#006fed"/><circle cx="399.7" cy="148.4" r="2.2" fill="#3d67e7"/><circle cx="570.2" cy="142.3" r="2.2" fill="#ff0052"/><circle cx="373.8" cy="142.1" r="2.2" fill="#0082f8"/><circle cx="382.2" cy="146.7" r="2.2" fill="#4d63e3"/><circle cx="368.9" cy="141.2" r="2.2" fill="#0083f8"/><circle cx="480.9" cy="140.6" r="2.2" fill="#fe005d"/><circle cx="385.6" cy="146.5" r="2.2" fill="#0077f2"/><circle cx="385.4" cy="141.4" r="2.2" fill="#007bf4"/><circle cx="381.3" cy="143.0" r="2.2" fill="#007ef6"/><circle cx="402.0" cy="139.3" r="2.2" fill="#7052d4"/><circle cx="372.4" cy="148.5" r="2.2" fill="#0084f9"/><circle cx="371.8" cy="135.6" r="2.2" fill="#0083f9"/><circle cx="410.6" cy="144.7" r="2.2" fill="#8e39bd"/><circle cx="389.0" cy="134.3" r="2.2" fill="#008bfb"/><circle cx="412.2" cy="141.6" r="2.2" fill="#9b24ad"/><circle cx="386.2" cy="133.6" r="2.2" fill="#007bf4"/><circle cx="350.4" cy="142.3" r="2.2" fill="#007df5"/><circle cx="396.4" cy="146.7" r="2.2" fill="#794dcf"/><circle cx="396.3" cy="135.9" r="2.2" fill="#794ccf"/><circle cx="386.7" cy="142.2" r="2.2" fill="#5b5dde"/><circle cx="377.2" cy="136.9" r="2.2" fill="#635adb"/><circle cx="365.8" cy="140.6" r="2.2" fill="#0086fa"/><circle cx="386.3" cy="137.9" r="2.2" fill="#0072ee"/><circle cx="393.4" cy="141.6" r="2.2" fill="#0084f9"/><circle cx="462.3" cy="142.3" r="2.2" fill="#ff0054"/><circle cx="381.7" cy="145.2" r="2.2" fill="#0077f2"/><circle cx="383.3" cy="133.8" r="2.2" fill="#3669e8"/><circle cx="402.5" cy="143.6" r="2.2" fill="#6e54d5"/><circle cx="375.2" cy="139.8" r="2.2" fill="#5361e1"/><circle cx="544.8" cy="141.0" r="2.2" fill="#ff0053"/><circle cx="422.6" cy="141.9" r="2.2" fill="#a51daa"/><circle cx="354.5" cy="142.3" r="2.2" fill="#0083f8"/><circle cx="369.9" cy="146.4" r="2.2" fill="#0077f2"/><circle cx="466.5" cy="142.3" r="2.2" fill="#f10072"/><circle cx="488.7" cy="142.3" r="2.2" fill="#fb0063"/><circle cx="382.1" cy="142.4" r="2.2" fill="#0079f3"/><circle cx="384.9" cy="147.9" r="2.2" fill="#0089fa"/><circle cx="385.5" cy="127.1" r="2.2" fill="#0079f3"/><circle cx="391.9" cy="151.6" r="2.2" fill="#0077f2"/><circle cx="368.9" cy="139.1" r="2.2" fill="#0071ee"/><circle cx="408.9" cy="140.7" r="2.2" fill="#9233b9"/><circle cx="451.5" cy="142.3" r="2.2" fill="#ff0055"/><circle cx="430.5" cy="142.3" r="2.2" fill="#9a25ae"/><circle cx="421.3" cy="142.3" r="2.2" fill="#9929b1"/><circle cx="406.5" cy="138.4" r="2.2" fill="#8146c8"/><circle cx="368.8" cy="143.4" r="2.2" fill="#0071ee"/><circle cx="352.2" cy="142.3" r="2.2" fill="#007ff6"/><circle cx="378.4" cy="140.4" r="2.2" fill="#7053d4"/><circle cx="385.0" cy="132.8" r="2.2" fill="#0088fa"/><circle cx="396.3" cy="140.2" r="2.2" fill="#7b4bcd"/><circle cx="532.2" cy="142.3" r="2.2" fill="#ff0059"/><circle cx="398.9" cy="135.5" r="2.2" fill="#5f5cdc"/><circle cx="407.9" cy="147.0" r="2.2" fill="#7c4acc"/><circle cx="402.0" cy="145.8" r="2.2" fill="#8b3cc0"/><circle cx="396.4" cy="141.7" r="2.2" fill="#9530b6"/><circle cx="439.7" cy="140.6" r="2.2" fill="#9b25ae"/><circle cx="380.2" cy="142.6" r="2.2" fill="#7e48cb"/><circle cx="548.6" cy="142.1" r="2.2" fill="#ff0057"/><circle cx="446.2" cy="142.3" r="2.2" fill="#aa18a8"/><circle cx="413.6" cy="139.5" r="2.2" fill="#9a26af"/><circle cx="390.9" cy="138.7" r="2.2" fill="#7b4bcd"/><circle cx="410.8" cy="136.1" r="2.2" fill="#893ec2"/><circle cx="396.4" cy="139.5" r="2.2" fill="#6857d8"/><circle cx="370.6" cy="144.2" r="2.2" fill="#0072ef"/><circle cx="510.3" cy="142.3" r="2.2" fill="#fd005f"/><circle cx="370.4" cy="139.9" r="2.2" fill="#008afb"/><circle cx="398.3" cy="135.2" r="2.2" fill="#4964e4"/><circle cx="378.3" cy="138.3" r="2.2" fill="#6d54d6"/><circle cx="377.0" cy="143.3" r="2.2" fill="#007af4"/><circle cx="409.2" cy="136.4" r="2.2" fill="#a61ba9"/><circle cx="381.1" cy="134.4" r="2.2" fill="#0086fa"/><circle cx="412.8" cy="145.9" r="2.2" fill="#952fb5"/><circle cx="547.1" cy="143.6" r="2.2" fill="#ff0051"/><circle cx="438.7" cy="144.0" r="2.2" fill="#9b24ae"/><circle cx="419.9" cy="144.4" r="2.2" fill="#d30090"/><circle cx="478.4" cy="142.3" r="2.2" fill="#fd005f"/><circle cx="377.7" cy="147.6" r="2.2" fill="#0087fa"/><circle cx="393.1" cy="145.9" r="2.2" fill="#0082f8"/><circle cx="383.0" cy="138.1" r="2.2" fill="#7d49cb"/><circle cx="379.5" cy="149.0" r="2.2" fill="#0084f9"/><circle cx="387.0" cy="137.2" r="2.2" fill="#3d67e7"/><circle cx="449.2" cy="142.3" r="2.2" fill="#ff0057"/><circle cx="364.8" cy="144.0" r="2.2" fill="#007af4"/><circle cx="388.1" cy="152.3" r="2.2" fill="#2f6be9"/><circle cx="386.4" cy="135.7" r="2.2" fill="#0c6fec"/><circle cx="377.0" cy="149.8" r="2.2" fill="#6658d9"/><circle cx="383.9" cy="144.5" r="2.2" fill="#3d67e7"/><circle cx="393.6" cy="135.0" r="2.2" fill="#326ae9"/><circle cx="421.7" cy="140.1" r="2.2" fill="#a41daa"/><circle cx="416.0" cy="138.0" r="2.2" fill="#a919a8"/><circle cx="345.8" cy="142.3" r="2.2" fill="#0079f3"/><circle cx="491.2" cy="142.3" r="2.2" fill="#fe005d"/><circle cx="374.7" cy="141.9" r="2.2" fill="#008afb"/><circle cx="390.0" cy="147.3" r="2.2" fill="#0079f3"/><circle cx="385.2" cy="152.2" r="2.2" fill="#565fe0"/><circle cx="390.3" cy="145.1" r="2.2" fill="#007cf5"/><circle cx="419.1" cy="139.2" r="2.2" fill="#ad15a6"/><circle cx="389.0" cy="132.2" r="2.2" fill="#007af4"/><circle cx="356.6" cy="142.3" r="2.2" fill="#0086f9"/><circle cx="398.2" cy="142.0" r="2.2" fill="#206deb"/><circle cx="484.7" cy="142.3" r="2.2" fill="#ff0053"/><circle cx="375.3" cy="144.1" r="2.2" fill="#0075f1"/><circle cx="395.1" cy="142.4" r="2.2" fill="#0081f7"/><circle cx="373.2" cy="146.4" r="2.2" fill="#276cea"/><circle cx="384.2" cy="143.6" r="2.2" fill="#186eec"/><circle cx="421.1" cy="138.0" r="2.2" fill="#aa17a8"/><circle cx="395.2" cy="138.1" r="2.2" fill="#883fc3"/><circle cx="414.5" cy="140.2" r="2.2" fill="#c2009c"/><circle cx="379.0" cy="136.1" r="2.2" fill="#0077f2"/><circle cx="390.2" cy="149.4" r="2.2" fill="#5460e1"/><circle cx="389.5" cy="151.5" r="2.2" fill="#5360e1"/><circle cx="392.9" cy="132.8" r="2.2" fill="#8b3cc0"/><circle cx="426.5" cy="144.0" r="2.2" fill="#972cb3"/><circle cx="408.5" cy="145.0" r="2.2" fill="#a819a8"/><circle cx="388.9" cy="135.1" r="2.2" fill="#0071ee"/>
</g>
<g>
<circle cx="413.7" cy="190.5" r="2.2" fill="#f80069"/><circle cx="385.9" cy="185.7" r="2.2" fill="#5360e1"/><circle cx="399.1" cy="192.7" r="2.2" fill="#615bdc"/><circle cx="362.0" cy="185.9" r="2.2" fill="#007ef6"/><circle cx="365.6" cy="187.3" r="2.2" fill="#0079f3"/><circle cx="398.4" cy="180.7" r="2.2" fill="#c2009c"/><circle cx="401.0" cy="195.3" r="2.2" fill="#db008b"/><circle cx="386.8" cy="190.4" r="2.2" fill="#0085f9"/><circle cx="398.1" cy="188.6" r="2.2" fill="#b606a2"/><circle cx="393.5" cy="181.7" r="2.2" fill="#c90098"/><circle cx="395.0" cy="176.2" r="2.2" fill="#0076f1"/><circle cx="378.4" cy="185.9" r="2.2" fill="#1d6deb"/><circle cx="403.8" cy="190.3" r="2.2" fill="#784dcf"/><circle cx="398.5" cy="201.6" r="2.2" fill="#e9007d"/><circle cx="435.0" cy="189.2" r="2.2" fill="#fc0060"/><circle cx="400.4" cy="199.1" r="2.2" fill="#972cb3"/><circle cx="431.7" cy="183.7" r="2.2" fill="#ff0051"/><circle cx="396.2" cy="192.0" r="2.2" fill="#c5009a"/><circle cx="402.7" cy="189.0" r="2.2" fill="#7f48ca"/><circle cx="388.6" cy="189.8" r="2.2" fill="#0083f8"/><circle cx="393.0" cy="194.1" r="2.2" fill="#b704a2"/><circle cx="382.8" cy="181.9" r="2.2" fill="#8047ca"/><circle cx="403.1" cy="192.1" r="2.2" fill="#a41daa"/><circle cx="398.0" cy="174.7" r="2.2" fill="#d5008f"/><circle cx="479.0" cy="188.1" r="2.2" fill="#fa0066"/><circle cx="393.7" cy="186.5" r="2.2" fill="#8245c8"/><circle cx="369.8" cy="186.4" r="2.2" fill="#008afb"/><circle cx="399.5" cy="194.3" r="2.2" fill="#c70099"/><circle cx="363.5" cy="189.5" r="2.2" fill="#3e67e6"/><circle cx="397.2" cy="182.2" r="2.2" fill="#cd0095"/><circle cx="381.8" cy="184.3" r="2.2" fill="#007bf5"/><circle cx="399.0" cy="198.4" r="2.2" fill="#575fdf"/><circle cx="360.4" cy="184.3" r="2.2" fill="#007ff7"/><circle cx="393.3" cy="187.8" r="2.2" fill="#3968e7"/><circle cx="395.0" cy="196.0" r="2.2" fill="#6459da"/><circle cx="365.8" cy="184.2" r="2.2" fill="#754fd1"/><circle cx="456.3" cy="188.1" r="2.2" fill="#f90066"/><circle cx="384.0" cy="193.9" r="2.2" fill="#0085f9"/><circle cx="434.8" cy="185.0" r="2.2" fill="#f90066"/><circle cx="514.2" cy="188.1" r="2.2" fill="#ff0054"/><circle cx="489.8" cy="188.1" r="2.2" fill="#fb0063"/><circle cx="383.6" cy="183.5" r="2.2" fill="#6b55d7"/><circle cx="403.5" cy="185.5" r="2.2" fill="#c1009d"/><circle cx="420.5" cy="190.3" r="2.2" fill="#be009e"/><circle cx="398.7" cy="188.9" r="2.2" fill="#982ab2"/><circle cx="391.1" cy="193.3" r="2.2" fill="#ce0094"/><circle cx="395.3" cy="177.7" r="2.2" fill="#c70099"/><circle cx="391.5" cy="192.5" r="2.2" fill="#c3009b"/><circle cx="408.9" cy="184.0" r="2.2" fill="#8146c9"/><circle cx="366.7" cy="187.9" r="2.2" fill="#166eec"/><circle cx="386.4" cy="179.4" r="2.2" fill="#0082f8"/><circle cx="438.3" cy="186.1" r="2.2" fill="#fb0064"/><circle cx="413.0" cy="192.0" r="2.2" fill="#9829b1"/><circle cx="440.9" cy="187.3" r="2.2" fill="#f70069"/><circle cx="401.5" cy="184.2" r="2.2" fill="#c1009d"/><circle cx="390.7" cy="183.8" r="2.2" fill="#b705a2"/><circle cx="397.7" cy="190.1" r="2.2" fill="#a21fab"/><circle cx="470.1" cy="187.1" r="2.2" fill="#ff0058"/><circle cx="423.7" cy="189.2" r="2.2" fill="#ff0057"/><circle cx="441.2" cy="185.7" r="2.2" fill="#ff0051"/><circle cx="385.7" cy="182.8" r="2.2" fill="#0083f8"/><circle cx="369.3" cy="186.4" r="2.2" fill="#0072ef"/><circle cx="397.2" cy="196.5" r="2.2" fill="#8d3abf"/><circle cx="395.3" cy="179.3" r="2.2" fill="#be009e"/><circle cx="396.4" cy="193.3" r="2.2" fill="#296cea"/><circle cx="399.4" cy="185.8" r="2.2" fill="#784dcf"/><circle cx="390.2" cy="187.0" r="2.2" fill="#c3009b"/><circle cx="393.8" cy="184.9" r="2.2" fill="#a81aa8"/><circle cx="395.7" cy="182.5" r="2.2" fill="#0070ed"/><circle cx="419.7" cy="188.7" r="2.2" fill="#f80068"/><circle cx="394.8" cy="188.1" r="2.2" fill="#dd0089"/><circle cx="422.6" cy="190.3" r="2.2" fill="#eb007b"/><circle cx="387.2" cy="182.5" r="2.2" fill="#8c3bbf"/><circle cx="386.3" cy="184.1" r="2.2" fill="#7c4acd"/><circle cx="400.3" cy="200.6" r="2.2" fill="#bf009d"/><circle cx="406.0" cy="194.1" r="2.2" fill="#d8008c"/><circle cx="381.4" cy="182.7" r="2.2" fill="#007bf4"/><circle cx="398.5" cy="179.5" r="2.2" fill="#8b3cc0"/><circle cx="462.0" cy="188.1" r="2.2" fill="#ff0058"/><circle cx="451.8" cy="190.3" r="2.2" fill="#f80069"/><circle cx="450.8" cy="188.7" r="2.2" fill="#f4006e"/><circle cx="375.3" cy="190.4" r="2.2" fill="#a021ac"/><circle cx="390.9" cy="182.2" r="2.2" fill="#206deb"/><circle cx="380.2" cy="190.6" r="2.2" fill="#b110a5"/><circle cx="375.7" cy="187.3" r="2.2" fill="#615adb"/><circle cx="419.4" cy="191.1" r="2.2" fill="#f20072"/><circle cx="404.6" cy="182.4" r="2.2" fill="#982ab1"/><circle cx="380.7" cy="192.2" r="2.2" fill="#7a4cce"/><circle cx="399.3" cy="192.1" r="2.2" fill="#8b3dc0"/><circle cx="391.4" cy="185.4" r="2.2" fill="#9929b1"/><circle cx="463.9" cy="188.1" r="2.2" fill="#ff0051"/><circle cx="409.6" cy="190.3" r="2.2" fill="#f4006f"/><circle cx="432.2" cy="185.3" r="2.2" fill="#ff0051"/><circle cx="453.8" cy="188.1" r="2.2" fill="#fa0065"/><circle cx="432.3" cy="190.1" r="2.2" fill="#ff0056"/><circle cx="443.2" cy="185.7" r="2.2" fill="#f3006f"/><circle cx="402.9" cy="177.6" r="2.2" fill="#e00085"/><circle cx="363.7" cy="186.3" r="2.2" fill="#0077f2"/><circle cx="397.8" cy="187.4" r="2.2" fill="#c0009d"/><circle cx="372.7" cy="189.2" r="2.2" fill="#9036bb"/><circle cx="445.5" cy="186.9" r="2.2" fill="#ff0051"/><circle cx="442.6" cy="187.3" r="2.2" fill="#f90067"/><circle cx="385.3" cy="184.4" r="2.2" fill="#0078f2"/><circle cx="365.2" cy="188.9" r="2.2" fill="#5460e1"/><circle cx="377.3" cy="190.7" r="2.2" fill="#007ff7"/><circle cx="400.6" cy="188.0" r="2.2" fill="#ae14a6"/><circle cx="396.4" cy="198.3" r="2.2" fill="#3769e8"/><circle cx="471.5" cy="188.1" r="2.2" fill="#ff0051"/><circle cx="398.3" cy="182.6" r="2.2" fill="#4864e4"/><circle cx="399.7" cy="191.2" r="2.2" fill="#c2009c"/><circle cx="386.9" cy="188.8" r="2.2" fill="#9135ba"/><circle cx="373.7" cy="188.9" r="2.2" fill="#5e5cdd"/><circle cx="410.3" cy="188.4" r="2.2" fill="#ec0079"/><circle cx="386.3" cy="180.9" r="2.2" fill="#8b3cc0"/><circle cx="395.6" cy="185.6" r="2.2" fill="#a120ab"/><circle cx="393.3" cy="197.5" r="2.2" fill="#962db4"/><circle cx="370.7" cy="190.8" r="2.2" fill="#7351d3"/><circle cx="401.0" cy="185.8" r="2.2" fill="#7c4acc"/><circle cx="393.9" cy="189.6" r="2.2" fill="#784dcf"/><circle cx="369.5" cy="188.0" r="2.2" fill="#0084f9"/><circle cx="401.8" cy="193.7" r="2.2" fill="#eb007a"/><circle cx="398.3" cy="199.6" r="2.2" fill="#8344c7"/><circle cx="423.5" cy="187.1" r="2.2" fill="#e30083"/><circle cx="384.2" cy="189.1" r="2.2" fill="#0076f1"/><circle cx="386.4" cy="177.8" r="2.2" fill="#bd009f"/><circle cx="447.2" cy="188.4" r="2.2" fill="#f7006a"/><circle cx="390.6" cy="191.7" r="2.2" fill="#7053d4"/><circle cx="387.9" cy="193.6" r="2.2" fill="#007ff7"/><circle cx="403.6" cy="191.8" r="2.2" fill="#9928b0"/><circle cx="406.4" cy="186.2" r="2.2" fill="#7251d3"/><circle cx="413.4" cy="185.7" r="2.2" fill="#f80069"/><circle cx="410.1" cy="183.6" r="2.2" fill="#d10092"/><circle cx="383.3" cy="196.1" r="2.2" fill="#0081f8"/><circle cx="400.3" cy="183.3" r="2.2" fill="#764ed0"/><circle cx="407.2" cy="190.7" r="2.2" fill="#972bb2"/><circle cx="406.2" cy="191.0" r="2.2" fill="#b803a1"/><circle cx="409.4" cy="185.6" r="2.2" fill="#b704a2"/><circle cx="498.1" cy="187.2" r="2.2" fill="#ff0053"/><circle cx="393.1" cy="183.0" r="2.2" fill="#a31eaa"/><circle cx="373.8" cy="185.7" r="2.2" fill="#0070ed"/><circle cx="401.2" cy="179.5" r="2.2" fill="#cd0095"/><circle cx="357.5" cy="187.1" r="2.2" fill="#007df5"/><circle cx="406.2" cy="187.8" r="2.2" fill="#8d3abe"/><circle cx="508.5" cy="188.1" r="2.2" fill="#ff005b"/><circle cx="409.5" cy="187.2" r="2.2" fill="#8146c9"/><circle cx="395.3" cy="188.8" r="2.2" fill="#605bdc"/><circle cx="379.9" cy="189.0" r="2.2" fill="#1f6deb"/><circle cx="359.3" cy="188.7" r="2.2" fill="#007af4"/><circle cx="399.6" cy="181.0" r="2.2" fill="#7a4bce"/><circle cx="414.2" cy="185.9" r="2.2" fill="#e00086"/><circle cx="385.4" cy="186.0" r="2.2" fill="#8146c9"/><circle cx="358.4" cy="190.3" r="2.2" fill="#3869e8"/><circle cx="391.0" cy="194.9" r="2.2" fill="#8344c7"/><circle cx="398.8" cy="200.0" r="2.2" fill="#4166e6"/><circle cx="393.1" cy="190.9" r="2.2" fill="#0075f1"/><circle cx="458.8" cy="186.7" r="2.2" fill="#f90066"/><circle cx="490.4" cy="188.1" r="2.2" fill="#ff0059"/><circle cx="394.5" cy="178.6" r="2.2" fill="#be009e"/><circle cx="366.7" cy="189.5" r="2.2" fill="#007af4"/><circle cx="391.7" cy="195.7" r="2.2" fill="#a919a8"/><circle cx="374.7" cy="188.9" r="2.2" fill="#9333b8"/><circle cx="372.8" cy="184.5" r="2.2" fill="#008bfb"/><circle cx="333.0" cy="188.1" r="2.2" fill="#007ff6"/><circle cx="416.5" cy="187.7" r="2.2" fill="#a81aa9"/><circle cx="409.4" cy="193.5" r="2.2" fill="#e40082"/><circle cx="425.4" cy="186.1" r="2.2" fill="#f5006e"/><circle cx="404.0" cy="188.7" r="2.2" fill="#8a3dc1"/><circle cx="412.6" cy="187.3" r="2.2" fill="#d6008e"/><circle cx="406.3" cy="181.5" r="2.2" fill="#9c23ad"/><circle cx="437.7" cy="187.7" r="2.2" fill="#f20072"/><circle cx="436.4" cy="186.1" r="2.2" fill="#ff0056"/><circle cx="356.8" cy="185.5" r="2.2" fill="#0082f8"/><circle cx="343.9" cy="186.4" r="2.2" fill="#0085f9"/><circle cx="363.0" cy="187.9" r="2.2" fill="#4f62e2"/><circle cx="408.1" cy="186.0" r="2.2" fill="#cc0096"/><circle cx="394.3" cy="191.2" r="2.2" fill="#cd0095"/><circle cx="375.4" cy="192.0" r="2.2" fill="#4864e4"/><circle cx="435.8" cy="187.7" r="2.2" fill="#ff0057"/><circle cx="431.7" cy="186.9" r="2.2" fill="#f00075"/><circle cx="399.5" cy="181.7" r="2.2" fill="#9530b6"/><circle cx="455.0" cy="186.7" r="2.2" fill="#ff0055"/><circle cx="338.3" cy="188.1" r="2.2" fill="#0080f7"/><circle cx="470.6" cy="188.7" r="2.2" fill="#f80069"/><circle cx="467.0" cy="188.1" r="2.2" fill="#fa0065"/><circle cx="431.4" cy="187.7" r="2.2" fill="#ff005a"/><circle cx="379.1" cy="184.4" r="2.2" fill="#206deb"/><circle cx="394.8" cy="194.4" r="2.2" fill="#6757d9"/><circle cx="347.8" cy="188.1" r="2.2" fill="#007ff7"/><circle cx="384.9" cy="179.7" r="2.2" fill="#a31eaa"/><circle cx="405.6" cy="189.4" r="2.2" fill="#d9008c"/><circle cx="450.4" cy="188.4" r="2.2" fill="#ff0053"/><circle cx="396.9" cy="177.5" r="2.2" fill="#c5009a"/><circle cx="396.5" cy="193.5" r="2.2" fill="#615adb"/><circle cx="384.8" cy="181.2" r="2.2" fill="#b30ca4"/><circle cx="388.7" cy="178.7" r="2.2" fill="#b804a2"/><circle cx="534.0" cy="188.1" r="2.2" fill="#ff005a"/><circle cx="387.8" cy="187.3" r="2.2" fill="#5560e0"/><circle cx="404.7" cy="179.2" r="2.2" fill="#ef0075"/><circle cx="408.8" cy="188.7" r="2.2" fill="#bc00a0"/><circle cx="370.8" cy="188.0" r="2.2" fill="#883fc3"/><circle cx="405.0" cy="184.6" r="2.2" fill="#ef0076"/><circle cx="363.8" cy="184.7" r="2.2" fill="#4b63e3"/><circle cx="421.5" cy="185.5" r="2.2" fill="#0084f9"/><circle cx="495.8" cy="188.1" r="2.2" fill="#ff0051"/><circle cx="418.5" cy="189.5" r="2.2" fill="#e50081"/><circle cx="412.9" cy="182.6" r="2.2" fill="#f80068"/><circle cx="498.3" cy="188.8" r="2.2" fill="#ff0056"/><circle cx="406.7" cy="183.1" r="2.2" fill="#a61ca9"/><circle cx="335.8" cy="188.1" r="2.2" fill="#007bf5"/><circle cx="367.3" cy="191.1" r="2.2" fill="#007df6"/><circle cx="465.1" cy="186.7" r="2.2" fill="#ff0057"/><circle cx="400.5" cy="180.1" r="2.2" fill="#625adb"/><circle cx="473.8" cy="188.1" r="2.2" fill="#fd0060"/><circle cx="397.8" cy="185.4" r="2.2" fill="#a41eaa"/><circle cx="407.0" cy="179.9" r="2.2" fill="#d8008c"/><circle cx="366.5" cy="186.3" r="2.2" fill="#0079f4"/><circle cx="388.6" cy="186.6" r="2.2" fill="#6359da"/><circle cx="425.8" cy="189.2" r="2.2" fill="#fc0061"/><circle cx="389.8" cy="188.2" r="2.2" fill="#3b68e7"/><circle cx="398.7" cy="193.7" r="2.2" fill="#9a26af"/><circle cx="417.9" cy="184.5" r="2.2" fill="#f90067"/><circle cx="354.4" cy="188.1" r="2.2" fill="#007ff7"/><circle cx="384.4" cy="190.7" r="2.2" fill="#4964e4"/><circle cx="398.6" cy="177.9" r="2.2" fill="#8146c9"/><circle cx="409.5" cy="182.4" r="2.2" fill="#d40090"/><circle cx="373.7" cy="190.4" r="2.2" fill="#0073f0"/><circle cx="397.9" cy="196.8" r="2.2" fill="#625adb"/><circle cx="416.9" cy="190.8" r="2.2" fill="#ab17a7"/><circle cx="414.7" cy="187.5" r="2.2" fill="#9928b0"/><circle cx="394.3" cy="192.8" r="2.2" fill="#066fec"/><circle cx="374.1" cy="192.0" r="2.2" fill="#9829b1"/><circle cx="390.0" cy="192.9" r="2.2" fill="#2a6bea"/><circle cx="407.8" cy="189.1" r="2.2" fill="#f20072"/><circle cx="395.6" cy="180.9" r="2.2" fill="#6c55d6"/><circle cx="398.3" cy="183.8" r="2.2" fill="#7a4bce"/><circle cx="382.5" cy="193.0" r="2.2" fill="#9036bb"/><circle cx="368.7" cy="189.6" r="2.2" fill="#007df5"/><circle cx="378.7" cy="189.1" r="2.2" fill="#0072ef"/><circle cx="402.9" cy="190.6" r="2.2" fill="#c90098"/><circle cx="402.7" cy="182.7" r="2.2" fill="#c3009b"/><circle cx="419.7" cy="184.7" r="2.2" fill="#db008a"/><circle cx="334.2" cy="186.7" r="2.2" fill="#0087fa"/><circle cx="385.0" cy="178.1" r="2.2" fill="#8146c9"/><circle cx="361.5" cy="187.5" r="2.2" fill="#2e6be9"/><circle cx="380.7" cy="193.8" r="2.2" fill="#0088fa"/><circle cx="421.8" cy="187.1" r="2.2" fill="#fe005d"/><circle cx="400.0" cy="186.4" r="2.2" fill="#e60080"/><circle cx="367.0" cy="184.7" r="2.2" fill="#007ff7"/><circle cx="412.0" cy="189.9" r="2.2" fill="#8344c7"/><circle cx="408.1" cy="187.6" r="2.2" fill="#8543c6"/><circle cx="440.4" cy="188.9" r="2.2" fill="#fc0062"/><circle cx="398.2" cy="190.5" r="2.2" fill="#585fdf"/><circle cx="434.6" cy="186.6" r="2.2" fill="#f7006a"/><circle cx="404.4" cy="187.1" r="2.2" fill="#9f21ac"/><circle cx="401.4" cy="177.9" r="2.2" fill="#a120ab"/><circle cx="438.1" cy="189.2" r="2.2" fill="#f90067"/><circle cx="457.6" cy="188.1" r="2.2" fill="#fd0060"/><circle cx="388.7" cy="185.0" r="2.2" fill="#4964e4"/><circle cx="416.3" cy="189.2" r="2.2" fill="#9928b0"/><circle cx="393.7" cy="199.1" r="2.2" fill="#4964e4"/><circle cx="434.3" cy="189.8" r="2.2" fill="#ff0051"/><circle cx="400.5" cy="197.5" r="2.2" fill="#bb00a0"/><circle cx="395.9" cy="196.7" r="2.2" fill="#bd009f"/><circle cx="423.2" cy="188.7" r="2.2" fill="#ff005b"/><circle cx="397.8" cy="194.9" r="2.2" fill="#8740c3"/><circle cx="391.4" cy="180.6" r="2.2" fill="#7b4bcd"/><circle cx="390.5" cy="188.5" r="2.2" fill="#cd0095"/><circle cx="402.9" cy="181.1" r="2.2" fill="#f10073"/><circle cx="393.0" cy="189.3" r="2.2" fill="#c6009a"/><circle cx="352.2" cy="188.1" r="2.2" fill="#008bfb"/><circle cx="392.5" cy="179.9" r="2.2" fill="#007bf5"/><circle cx="356.0" cy="190.3" r="2.2" fill="#3b68e7"/><circle cx="389.3" cy="191.4" r="2.2" fill="#a61ba9"/><circle cx="445.1" cy="188.4" r="2.2" fill="#fa0065"/><circle cx="401.0" cy="184.8" r="2.2" fill="#982ab1"/><circle cx="398.2" cy="184.2" r="2.2" fill="#7c4acc"/><circle cx="428.1" cy="187.7" r="2.2" fill="#f70069"/><circle cx="492.7" cy="188.4" r="2.2" fill="#f30070"/><circle cx="418.3" cy="186.3" r="2.2" fill="#ba00a0"/><circle cx="428.2" cy="186.1" r="2.2" fill="#fd005f"/><circle cx="365.0" cy="190.5" r="2.2" fill="#635adb"/><circle cx="343.3" cy="189.6" r="2.2" fill="#007cf5"/><circle cx="376.0" cy="185.7" r="2.2" fill="#5f5bdc"/><circle cx="472.7" cy="186.7" r="2.2" fill="#ff0051"/><circle cx="395.5" cy="195.1" r="2.2" fill="#d40090"/><circle cx="389.8" cy="181.9" r="2.2" fill="#5f5cdc"/><circle cx="404.8" cy="180.8" r="2.2" fill="#8740c4"/><circle cx="399.2" cy="195.3" r="2.2" fill="#8f37bc"/><circle cx="447.9" cy="186.9" r="2.2" fill="#f5006d"/><circle cx="388.8" cy="183.5" r="2.2" fill="#6b55d7"/><circle cx="408.2" cy="182.8" r="2.2" fill="#8f37bc"/><circle cx="401.1" cy="187.4" r="2.2" fill="#883fc3"/><circle cx="390.2" cy="190.1" r="2.2" fill="#8a3ec1"/><circle cx="397.3" cy="191.7" r="2.2" fill="#7052d4"/><circle cx="425.5" cy="187.7" r="2.2" fill="#f90067"/><circle cx="411.7" cy="185.2" r="2.2" fill="#ed0077"/><circle cx="383.2" cy="194.6" r="2.2" fill="#0081f7"/><circle cx="385.2" cy="187.6" r="2.2" fill="#0087fa"/><circle cx="382.1" cy="185.1" r="2.2" fill="#b607a2"/><circle cx="398.0" cy="176.3" r="2.2" fill="#5560e0"/><circle cx="439.4" cy="185.7" r="2.2" fill="#fa0065"/><circle cx="384.5" cy="192.3" r="2.2" fill="#9431b7"/><circle cx="442.3" cy="188.9" r="2.2" fill="#f90067"/><circle cx="386.5" cy="192.0" r="2.2" fill="#a919a8"/><circle cx="407.8" cy="184.4" r="2.2" fill="#f4006e"/><circle cx="412.8" cy="188.9" r="2.2" fill="#fa0064"/><circle cx="363.9" cy="185.7" r="2.2" fill="#0070ed"/><circle cx="378.6" cy="187.5" r="2.2" fill="#0087fa"/><circle cx="380.5" cy="187.5" r="2.2" fill="#7350d2"/><circle cx="356.1" cy="188.7" r="2.2" fill="#0082f8"/><circle cx="451.6" cy="185.5" r="2.2" fill="#d20092"/><circle cx="399.6" cy="178.5" r="2.2" fill="#cc0096"/><circle cx="388.8" cy="194.5" r="2.2" fill="#0079f3"/><circle cx="382.8" cy="186.7" r="2.2" fill="#7251d3"/><circle cx="434.3" cy="188.2" r="2.2" fill="#ff0055"/><circle cx="374.8" cy="187.3" r="2.2" fill="#0071ee"/><circle cx="403.9" cy="193.4" r="2.2" fill="#b10fa5"/><circle cx="416.0" cy="190.7" r="2.2" fill="#f5006d"/><circle cx="341.5" cy="188.1" r="2.2" fill="#007cf5"/><circle cx="391.7" cy="181.4" r="2.2" fill="#9f21ac"/><circle cx="381.6" cy="185.9" r="2.2" fill="#7a4bce"/><circle cx="393.1" cy="180.2" r="2.2" fill="#a21fab"/><circle cx="452.6" cy="187.1" r="2.2" fill="#fa0065"/><circle cx="408.5" cy="191.9" r="2.2" fill="#cd0095"/><circle cx="449.5" cy="186.9" r="2.2" fill="#fb0063"/><circle cx="394.7" cy="183.3" r="2.2" fill="#0075f1"/><circle cx="415.5" cy="192.2" r="2.2" fill="#a020ac"/><circle cx="401.4" cy="196.9" r="2.2" fill="#aa18a8"/><circle cx="415.7" cy="184.3" r="2.2" fill="#982ab1"/><circle cx="395.0" cy="184.1" r="2.2" fill="#c90098"/><circle cx="357.7" cy="185.5" r="2.2" fill="#008bfb"/><circle cx="404.4" cy="195.0" r="2.2" fill="#f4006f"/><circle cx="391.6" cy="186.2" r="2.2" fill="#3a68e7"/><circle cx="429.3" cy="189.2" r="2.2" fill="#f6006c"/><circle cx="390.9" cy="179.1" r="2.2" fill="#4c63e3"/><circle cx="398.1" cy="175.9" r="2.2" fill="#5a5dde"/><circle cx="419.1" cy="187.9" r="2.2" fill="#fc0062"/><circle cx="426.7" cy="186.1" r="2.2" fill="#f80069"/><circle cx="440.7" cy="187.3" r="2.2" fill="#fc0061"/><circle cx="384.0" cy="188.2" r="2.2" fill="#4d63e3"/><circle cx="415.5" cy="189.1" r="2.2" fill="#dd0088"/><circle cx="422.1" cy="185.5" r="2.2" fill="#ed0078"/><circle cx="412.1" cy="184.1" r="2.2" fill="#dd0089"/><circle cx="397.9" cy="187.0" r="2.2" fill="#e60080"/><circle cx="400.2" cy="195.9" r="2.2" fill="#8e39bd"/><circle cx="399.0" cy="173.1" r="2.2" fill="#cd0095"/><circle cx="397.4" cy="198.0" r="2.2" fill="#6758d9"/><circle cx="371.1" cy="186.0" r="2.2" fill="#4764e4"/><circle cx="410.8" cy="186.8" r="2.2" fill="#8d3abe"/><circle cx="383.8" cy="180.3" r="2.2" fill="#0072ef"/><circle cx="387.9" cy="180.3" r="2.2" fill="#794cce"/><circle cx="383.4" cy="189.8" r="2.2" fill="#007ff7"/><circle cx="349.7" cy="188.1" r="2.2" fill="#0075f1"/><circle cx="371.6" cy="187.6" r="2.2" fill="#336ae8"/><circle cx="383.6" cy="191.4" r="2.2" fill="#007cf5"/><circle cx="395.7" cy="199.9" r="2.2" fill="#b20ea4"/><circle cx="430.2" cy="186.1" r="2.2" fill="#f30071"/><circle cx="548.7" cy="188.1" r="2.2" fill="#fe005d"/><circle cx="363.5" cy="191.1" r="2.2" fill="#6758d9"/><circle cx="396.3" cy="187.2" r="2.2" fill="#1d6deb"/><circle cx="439.8" cy="188.9" r="2.2" fill="#f7006a"/><circle cx="417.4" cy="186.1" r="2.2" fill="#e60080"/><circle cx="396.7" cy="190.4" r="2.2" fill="#4665e4"/><circle cx="355.4" cy="187.1" r="2.2" fill="#615bdc"/><circle cx="343.6" cy="188.0" r="2.2" fill="#0086f9"/><circle cx="403.8" cy="183.9" r="2.2" fill="#ae13a6"/><circle cx="392.9" cy="184.6" r="2.2" fill="#b20ea4"/><circle cx="400.5" cy="176.9" r="2.2" fill="#6d54d6"/><circle cx="424.8" cy="187.7" r="2.2" fill="#ee0077"/><circle cx="407.0" cy="192.5" r="2.2" fill="#7e48cb"/><circle cx="396.5" cy="179.1" r="2.2" fill="#1f6deb"/><circle cx="427.3" cy="189.2" r="2.2" fill="#ee0077"/><circle cx="432.4" cy="188.5" r="2.2" fill="#fd005f"/><circle cx="370.8" cy="189.6" r="2.2" fill="#0079f3"/><circle cx="360.2" cy="189.1" r="2.2" fill="#036fed"/><circle cx="399.6" cy="189.6" r="2.2" fill="#de0087"/>
</g>
<line x1="298.4" y1="233.5" x2="621.8" y2="233.5" stroke="#333333" stroke-width="0.8"/>
<line x1="305.10" y1="233.5" x2="305.10" y2="236.8" stroke="#333333" stroke-width="0.8"/>
<text x="305.10" y="249.2" font-size="11" text-anchor="middle" fill="#333333">−0.2</text>
<line x1="353.10" y1="233.5" x2="353.10" y2="236.8" stroke="#333333" stroke-width="0.8"/>
<text x="353.10" y="249.2" font-size="11" text-anchor="middle" fill="#333333">−0.1</text>
<line x1="401.10" y1="233.5" x2="401.10" y2="236.8" stroke="#333333" stroke-width="0.8"/>
<text x="401.10" y="249.2" font-size="11" text-anchor="middle" fill="#333333">0.0</text>
<line x1="449.10" y1="233.5" x2="449.10" y2="236.8" stroke="#333333" stroke-width="0.8"/>
<text x="449.10" y="249.2" font-size="11" text-anchor="middle" fill="#333333">0.1</text>
<line x1="497.10" y1="233.5" x2="497.10" y2="236.8" stroke="#333333" stroke-width="0.8"/>
<text x="497.10" y="249.2" font-size="11" text-anchor="middle" fill="#333333">0.2</text>
<line x1="545.10" y1="233.5" x2="545.10" y2="236.8" stroke="#333333" stroke-width="0.8"/>
<text x="545.10" y="249.2" font-size="11" text-anchor="middle" fill="#333333">0.3</text>
<line x1="593.10" y1="233.5" x2="593.10" y2="236.8" stroke="#333333" stroke-width="0.8"/>
<text x="593.10" y="249.2" font-size="11" text-anchor="middle" fill="#333333">0.4</text>
<text x="461.10" y="265" font-size="13.1" text-anchor="middle" fill="#000">SHAP value (impact on model output)</text>
<text x="275.3" y="55.85" font-size="13.1" text-anchor="end" fill="#333333">RH Rostral Anterior Cingulate Cortex thick</text>
<text x="275.5" y="101.40" font-size="13.1" text-anchor="end" fill="#333333">LH Presubiculum Volume</text>
<text x="275.5" y="147.25" font-size="13.1" text-anchor="end" fill="#333333">White Matter Hypointensities</text>
<text x="275.5" y="193.00" font-size="13.1" text-anchor="end" fill="#333333">Symptom Checklist-90</text>
<defs><linearGradient id="cb" x1="0" y1="1" x2="0" y2="0">
<stop offset="0.00" stop-color="#008bfb"/>
<stop offset="0.05" stop-color="#0084f9"/>
<stop offset="0.10" stop-color="#007cf5"/>
<stop offset="0.15" stop-color="#0075f0"/>
<stop offset="0.20" stop-color="#246cea"/>
<stop offset="0.25" stop-color="#4b63e3"/>
<stop offset="0.30" stop-color="#635adb"/>
<stop offset="0.35" stop-color="#754fd1"/>
<stop offset="0.40" stop-color="#8443c6"/>
<stop offset="0.45" stop-color="#9135ba"/>
<stop offset="0.50" stop-color="#9b23ad"/>
<stop offset="0.55" stop-color="#ac16a7"/>
<stop offset="0.60" stop-color="#bb00a0"/>
<stop offset="0.65" stop-color="#c90098"/>
<stop offset="0.70" stop-color="#d5008f"/>
<stop offset="0.75" stop-color="#e00086"/>
<stop offset="0.80" stop-color="#e9007c"/>
<stop offset="0.85" stop-color="#f20072"/>
<stop offset="0.90" stop-color="#f90067"/>
<stop offset="0.95" stop-color="#fe005c"/>
<stop offset="1.00" stop-color="#ff0051"/>
</linearGradient></defs>
<rect x="642.8" y="4.7" width="3.1" height="229.05" fill="url(#cb)"/>
<text x="649.5" y="9.1" font-size="11" fill="#111">High</text>
<text x="649.4" y="238.1" font-size="11" fill="#111">Low</text>
<text transform="translate(684.3,119.8) rotate(-90)" font-size="12" text-anchor="middle" fill="#000">Feature value</text>
</svg>
</body></html>
